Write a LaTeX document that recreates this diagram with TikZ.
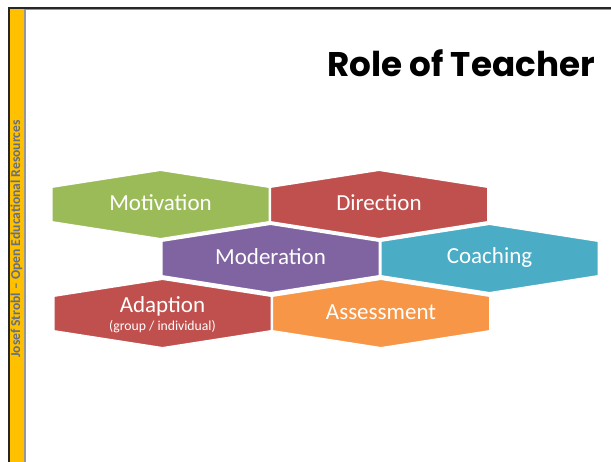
\documentclass[tikz,border=0pt]{standalone}
\usepackage{fontspec}
\setmainfont{Carlito}
\newfontfamily\titlefont{Poppins}
\definecolor{cgreen}{HTML}{9BBB59}
\definecolor{cred}{HTML}{C0504D}
\definecolor{cpurple}{HTML}{8064A2}
\definecolor{cteal}{HTML}{4BACC6}
\definecolor{corange}{HTML}{F79646}
\definecolor{cgold}{HTML}{FFC000}
\definecolor{cbargray}{HTML}{969696}
\definecolor{csidetext}{RGB}{100,112,132}
\tikzset{
  hexlabel/.style={text=white, font=\fontsize{23}{26}\selectfont, inner sep=0pt},
  sublabel/.style={text=white, font=\fontsize{13.7}{15}\selectfont, inner sep=0pt},
  hexfill/.style={draw=white, line width=2pt, line join=miter}
}
% hexagon: center x, center y, colour
\newcommand{\hexshape}[3]{%
  \path[hexfill, fill=#3] (#1-109,#2-17.5) -- (#1,#2-34.5) -- (#1+109,#2-17.5)
    -- (#1+109,#2+17.5) -- (#1,#2+34.5) -- (#1-109,#2+17.5) -- cycle;}
\begin{document}
\begin{tikzpicture}[x=1pt,y=-1pt]
\useasboundingbox[fill=white] (0,0) rectangle (611,462);
% frame and left bar
\fill[black!85] (8,7) rectangle (611,9);
\fill[cbargray] (26,9) rectangle (611,10.2);
\fill[black!85] (8,7) rectangle (10,462);
\fill[cgold] (10,9) rectangle (24,462);
\fill[cbargray] (24,9) rectangle (26,462);
\node[rotate=90, text=csidetext, font=\bfseries\fontsize{13.6}{15}\selectfont, inner sep=0pt] (side) at (16.5,239) {Josef Strobl – Open Educational Resources};
% title
\node[anchor=base, font=\titlefont\bfseries\fontsize{34.2}{38}\selectfont, inner sep=0pt] (title) at (461,77) {Role of Teacher};
% hexagons
\hexshape{160.5}{204.5}{cgreen}
\hexshape{379}{204.5}{cred}
\hexshape{270.5}{258.5}{cpurple}
\hexshape{489.5}{258.5}{cteal}
\hexshape{162.5}{313.5}{cred}
\hexshape{381}{313.5}{corange}
\node[hexlabel] (mot) at (160.5,203) {Motivation};
\node[hexlabel] (dir) at (379,203) {Direction};
\node[hexlabel] (mod) at (270.5,257) {Moderation};
\node[hexlabel] (coa) at (489.5,257) {Coaching};
\node[hexlabel] (ada) at (162.5,306) {Adaption};
\node[sublabel] (adasub) at (162.5,327) {(group / individual)};
\node[hexlabel] (ass) at (381,312) {Assessment};
\end{tikzpicture}
\end{document}
